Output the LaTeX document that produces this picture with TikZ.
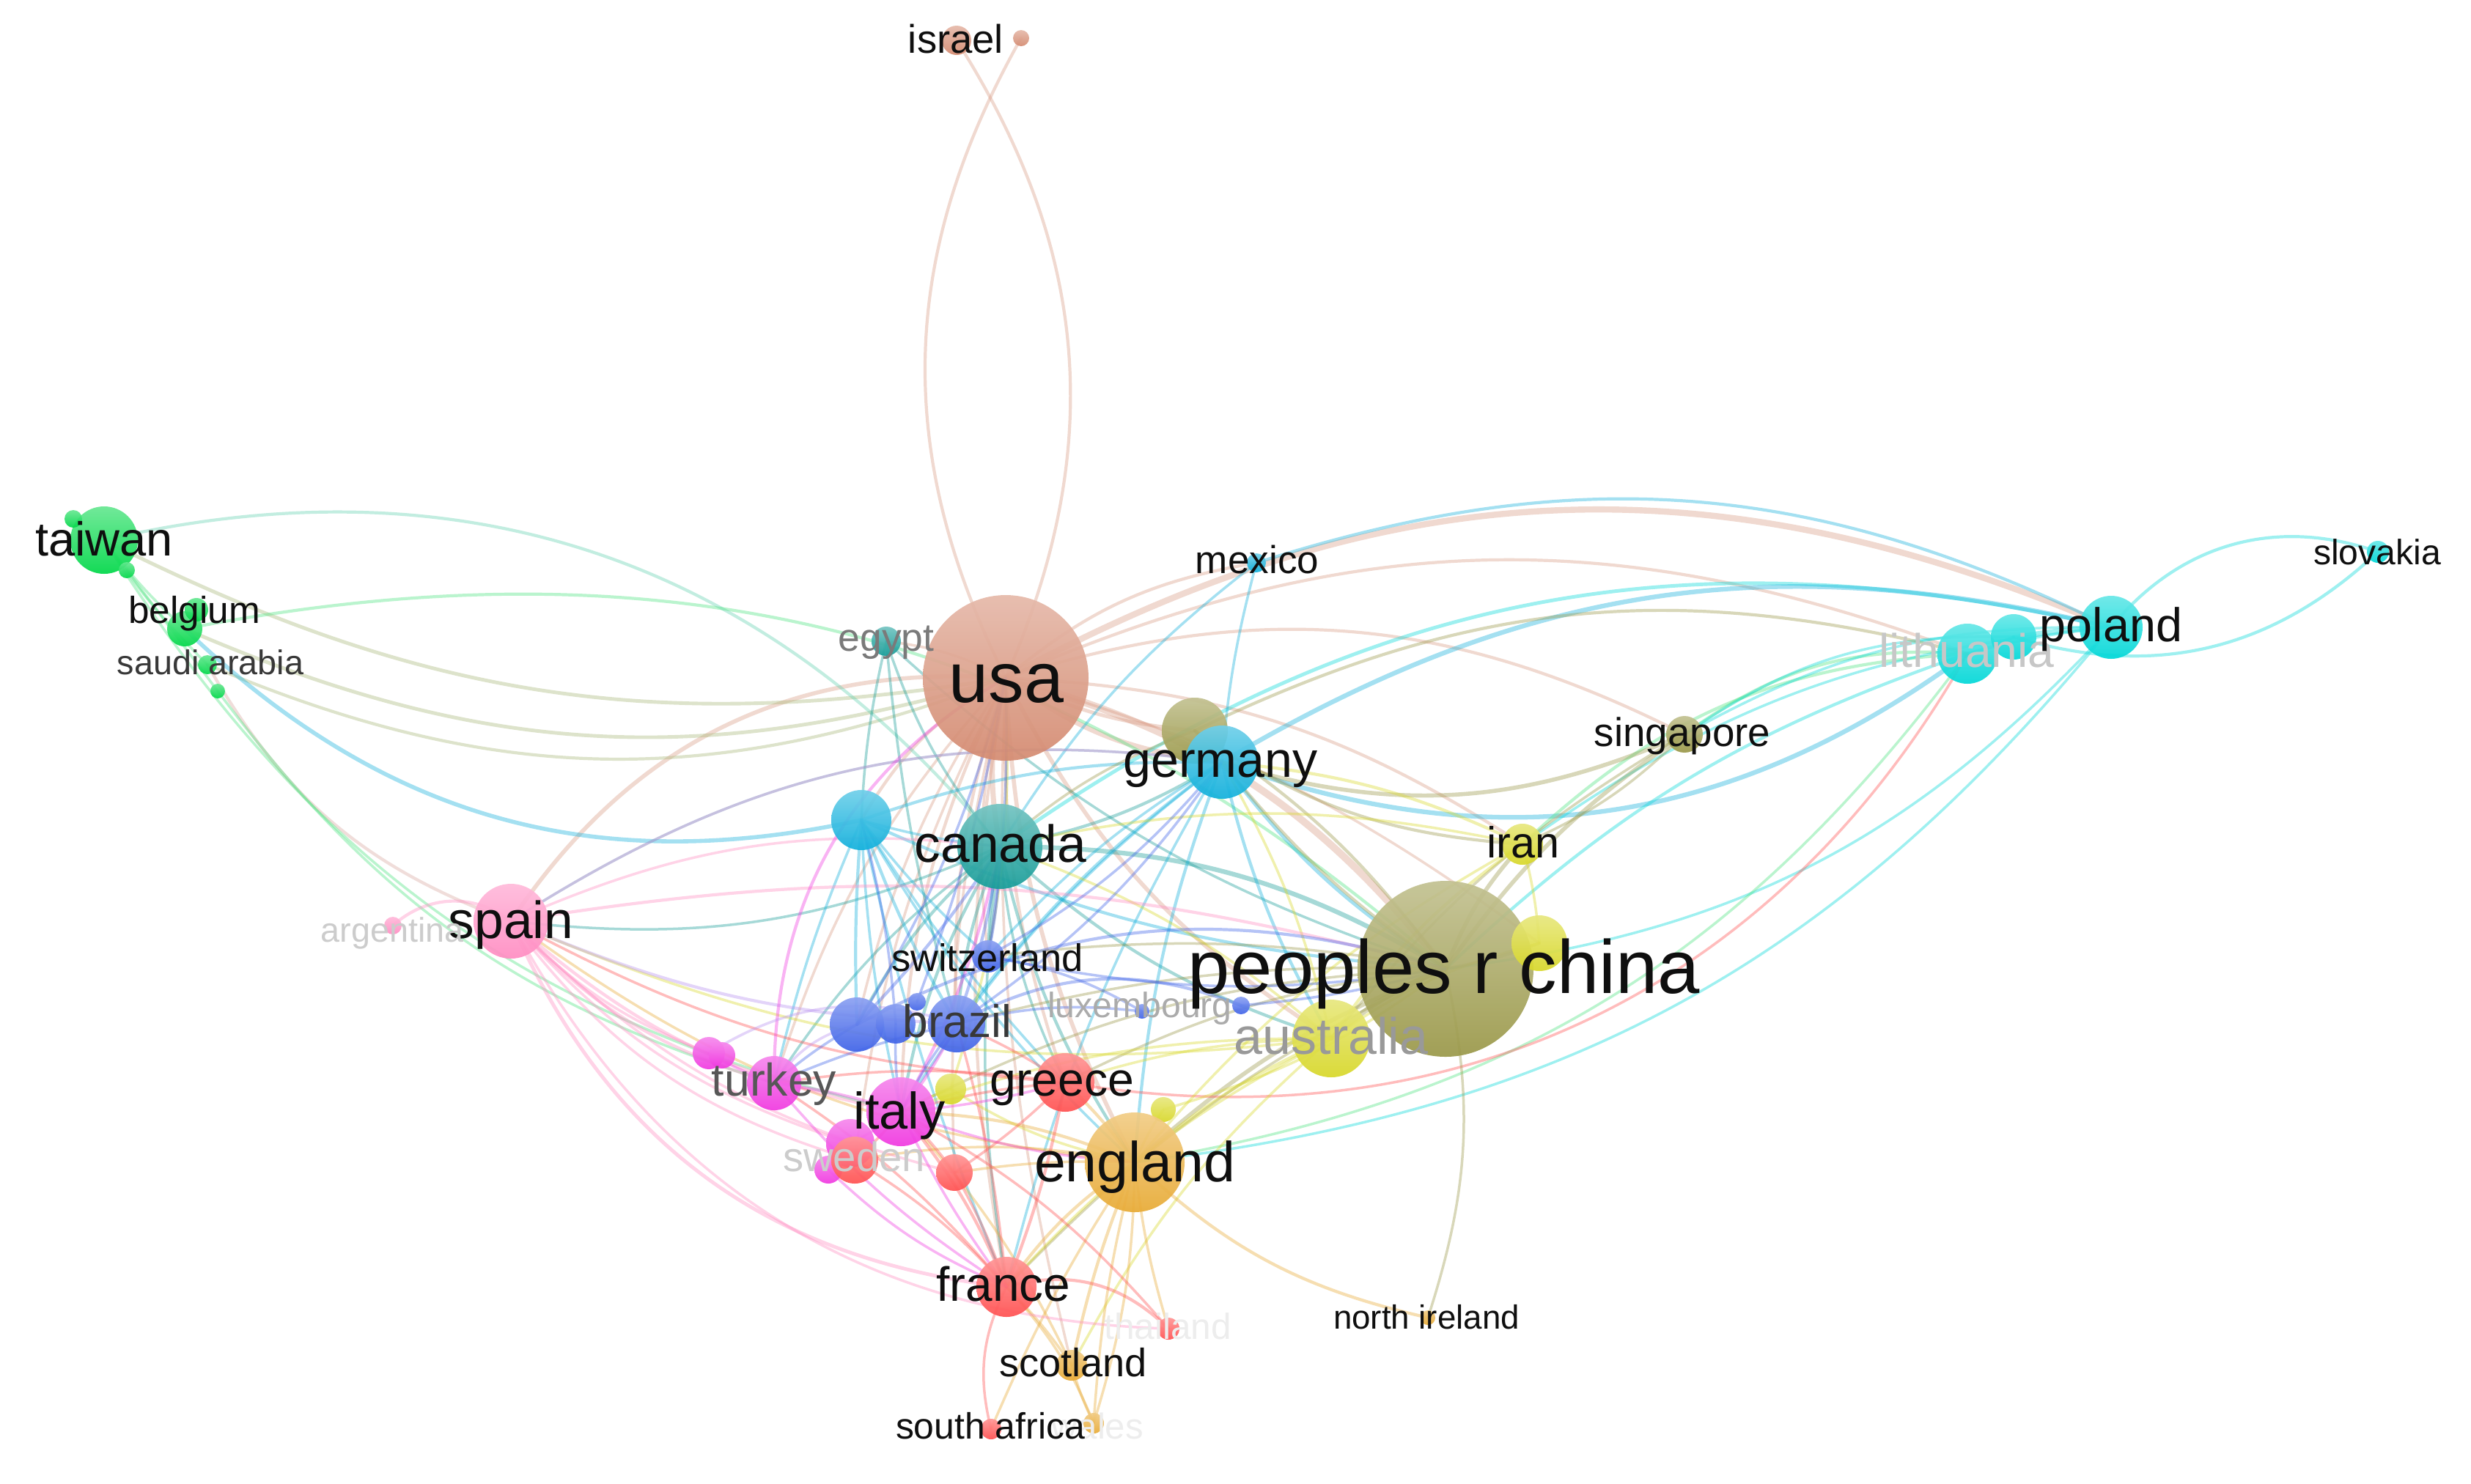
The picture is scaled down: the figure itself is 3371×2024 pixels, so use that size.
\documentclass[tikz,border=0pt]{standalone}
\usepackage{fontspec}
\setmainfont{Liberation Sans}
\pgfdeclarelayer{bg}
\pgfdeclarelayer{edges}
\pgfdeclarelayer{lbl}
\pgfsetlayers{bg,edges,main,lbl}
\definecolor{cUsa}{HTML}{D48A70}
\definecolor{cOlive}{HTML}{9A9848}
\definecolor{cCyB}{HTML}{10B0DC}
\definecolor{cTeal}{HTML}{169C98}
\definecolor{cCyan}{HTML}{00D8D8}
\definecolor{cGreen}{HTML}{00D848}
\definecolor{cPink}{HTML}{FF8CC2}
\definecolor{cMag}{HTML}{F038E0}
\definecolor{cBlue}{HTML}{3E62E8}
\definecolor{cRed}{HTML}{FF5050}
\definecolor{cGold}{HTML}{E8AA34}
\definecolor{cYel}{HTML}{D8D828}
\definecolor{eOG}{HTML}{A8B878}
\definecolor{eTG}{HTML}{60D0B0}
\definecolor{ePurp}{HTML}{B890F0}
\definecolor{eBrP}{HTML}{D8A8A0}
\tikzset{
  nd/.style 2 args={circle, inner sep=0pt, draw=none, minimum size=#2*0.2mm,
     top color=#1!60!white, bottom color=#1, fill opacity=0.92},
  lbl/.style={anchor=base, inner sep=0pt, text=black!94, font=\fontsize{#1}{#1}\selectfont},
  ed/.style={draw opacity=0.38, line cap=round},
  eu/.style={draw=cUsa!85!white},
  eg/.style={draw=cGreen!70!white},
  eg2/.style={draw=eOG},
  egt/.style={draw=eTG},
  et/.style={draw=cTeal},
  ec/.style={draw=cCyan},
  ecb/.style={draw=cCyB},
  eo/.style={draw=cOlive},
  ey/.style={draw=cYel},
  egd/.style={draw=cGold},
  er/.style={draw=cRed},
  ep/.style={draw=cPink},
  epb/.style={draw=ePurp},
  eps/.style={draw=eBrP},
  em/.style={draw=cMag},
  eb/.style={draw=cBlue}
}
\newcommand\edg[5]{\draw[ed,#1,line width=1.4*#2] (#3.center) to[bend right=#5] (#4.center);}
\begin{document}
\begin{tikzpicture}[x=0.1mm,y=-0.1mm]
\begin{pgfonlayer}{bg}
\fill[white] (0,0) rectangle (3371,2024);
\end{pgfonlayer}
\useasboundingbox (0,0) rectangle (3371,2024);
% ---------------- nodes ----------------
\node[nd={cUsa}{113}] (usa) at (1372,925) {};
\node[nd={cUsa}{20}] (israel) at (1305,55) {};
\node[nd={cUsa}{11}] (isr2) at (1393,52) {};
\node[nd={cYel}{53}] (australia) at (1816,1417) {};
\node[nd={cOlive}{120}] (china) at (1972,1322) {};
\node[nd={cYel}{38}] (yel1) at (2100,1287) {};
\node[nd={cOlive}{45}] (olv) at (1630,997) {};
\node[nd={cOlive}{25}] (singapore) at (2298,1002) {};
\node[nd={cCyB}{50}] (germany) at (1667,1040) {};
\node[nd={cCyB}{13}] (mexico) at (1714,768) {};
\node[nd={cCyB}{41}] (cyn) at (1175,1119) {};
\node[nd={cTeal}{58}] (canada) at (1364,1155) {};
\node[nd={cTeal}{20}] (egypt) at (1209,875) {};
\node[nd={cCyan}{43}] (poland) at (2880,856) {};
\node[nd={cCyan}{41}] (lith) at (2684,892) {};
\node[nd={cCyan}{31}] (lith2) at (2747,869) {};
\node[nd={cCyan}{15}] (slovakia) at (3244,753) {};
\node[nd={cGreen}{46}] (taiwan) at (142,737) {};
\node[nd={cGreen}{12}] (tw2) at (100,708) {};
\node[nd={cGreen}{11}] (tw3) at (173,778) {};
\node[nd={cGreen}{24}] (belgium) at (252,858) {};
\node[nd={cGreen}{16}] (bel2) at (268,832) {};
\node[nd={cGreen}{13}] (saudi) at (283,907) {};
\node[nd={cGreen}{10}] (sa2) at (297,943) {};
\node[nd={cPink}{51}] (spain) at (697,1257) {};
\node[nd={cPink}{12}] (argentina) at (536,1263) {};
\node[nd={cMag}{37}] (turkey) at (1056,1478) {};
\node[nd={cMag}{22}] (tk2) at (967,1437) {};
\node[nd={cMag}{18}] (tk3) at (985,1440) {};
\node[nd={cMag}{47}] (italy) at (1229,1517) {};
\node[nd={cMag}{33}] (sw1) at (1160,1560) {};
\node[nd={cMag}{19}] (sw3) at (1130,1596) {};
\node[nd={cRed}{32}] (sweden) at (1166,1583) {};
\node[nd={cRed}{25}] (red2) at (1302,1600) {};
\node[nd={cRed}{40}] (greece) at (1453,1477) {};
\node[nd={cRed}{41}] (france) at (1373,1756) {};
\node[nd={cRed}{15}] (thailand) at (1594,1813) {};
\node[nd={cRed}{14}] (safrica) at (1352,1950) {};
\node[nd={cBlue}{37}] (brA) at (1169,1398) {};
\node[nd={cBlue}{27}] (brB) at (1222,1397) {};
\node[nd={cBlue}{12}] (brC) at (1251,1367) {};
\node[nd={cBlue}{39}] (brazil) at (1305,1397) {};
\node[nd={cBlue}{22}] (switz) at (1348,1305) {};
\node[nd={cBlue}{10}] (lux1) at (1558,1380) {};
\node[nd={cBlue}{12}] (lux2) at (1693,1372) {};
\node[nd={cYel}{28}] (iran) at (2077,1152) {};
\node[nd={cYel}{21}] (yel2) at (1297,1486) {};
\node[nd={cYel}{17}] (yel3) at (1587,1514) {};
\node[nd={cGold}{68}] (england) at (1548,1586) {};
\node[nd={cGold}{21}] (scotland) at (1462,1863) {};
\node[nd={cGold}{14}] (wales) at (1492,1942) {};
\node[nd={cGold}{10}] (nireland) at (1948,1798) {};
% ---------------- edges ----------------
\begin{pgfonlayer}{edges}
% usa
\edg{eu}{0.3mm}{usa}{israel}{28}
\edg{eu}{0.3mm}{isr2}{usa}{28}
\edg{eu}{0.7mm}{china}{usa}{18}
\edg{eu}{0.6mm}{poland}{usa}{26}
\edg{eu}{0.5mm}{usa}{germany}{15}
\edg{eu}{0.5mm}{usa}{canada}{12}
\edg{eu}{0.4mm}{usa}{england}{12}
\edg{eu}{0.3mm}{usa}{france}{10}
\edg{eu}{0.3mm}{usa}{italy}{12}
\edg{eu}{0.3mm}{usa}{brazil}{10}
\edg{eu}{0.4mm}{usa}{australia}{15}
\edg{eu}{0.3mm}{usa}{greece}{10}
\edg{eu}{0.25mm}{usa}{switz}{10}
\edg{eu}{0.3mm}{usa}{cyn}{15}
\edg{eu}{0.25mm}{usa}{egypt}{10}
\edg{eu}{0.3mm}{usa}{mexico}{-15}
\edg{eu}{0.4mm}{usa}{spain}{30}
\edg{eu}{0.25mm}{usa}{sweden}{10}
\edg{eu}{0.3mm}{usa}{iran}{-15}
\edg{eu}{0.3mm}{singapore}{usa}{22}
\edg{eu}{0.3mm}{lith}{usa}{22}
\edg{eu}{0.25mm}{usa}{scotland}{8}
\edg{eu}{0.25mm}{usa}{turkey}{12}
\edg{eu}{0.35mm}{usa}{olv}{10}
\edg{eu}{0.25mm}{usa}{red2}{8}
\edg{eu}{0.25mm}{usa}{brA}{10}
\edg{eu}{0.25mm}{usa}{yel1}{-10}
% green
\edg{eg2}{0.35mm}{taiwan}{usa}{18}
\edg{eg2}{0.35mm}{belgium}{usa}{20}
\edg{eg2}{0.3mm}{saudi}{usa}{22}
\edg{egt}{0.3mm}{canada}{taiwan}{32}
\edg{ecb}{0.4mm}{belgium}{cyn}{28}
\edg{eg}{0.3mm}{china}{belgium}{26}
\edg{eps}{0.3mm}{saudi}{spain}{20}
\edg{eg}{0.25mm}{taiwan}{italy}{22}
\edg{eg}{0.25mm}{sa2}{turkey}{18}
\edg{eg}{0.25mm}{taiwan}{belgium}{5}
\edg{eg}{0.25mm}{taiwan}{saudi}{5}
\edg{eg}{0.25mm}{tw3}{sa2}{0}
% teal / cyan-blue
\edg{et}{0.45mm}{china}{canada}{15}
\edg{et}{0.3mm}{canada}{germany}{10}
\edg{et}{0.3mm}{canada}{brazil}{8}
\edg{et}{0.3mm}{canada}{brA}{10}
\edg{et}{0.25mm}{canada}{switz}{5}
\edg{et}{0.3mm}{canada}{italy}{10}
\edg{et}{0.25mm}{canada}{spain}{-15}
\edg{et}{0.3mm}{canada}{england}{10}
\edg{et}{0.25mm}{canada}{france}{8}
\edg{et}{0.25mm}{canada}{greece}{10}
\edg{et}{0.3mm}{canada}{australia}{12}
\edg{et}{0.25mm}{canada}{turkey}{10}
\edg{et}{0.25mm}{egypt}{canada}{10}
\edg{et}{0.25mm}{egypt}{cyn}{5}
\edg{et}{0.25mm}{egypt}{china}{12}
\edg{et}{0.25mm}{egypt}{brazil}{5}
\edg{ec}{0.35mm}{poland}{canada}{24}
\edg{ecb}{0.45mm}{poland}{germany}{22}
\edg{ecb}{0.45mm}{germany}{lith}{28}
\edg{ecb}{0.25mm}{mexico}{germany}{5}
\edg{ecb}{0.25mm}{mexico}{canada}{10}
\edg{ecb}{0.3mm}{poland}{mexico}{22}
\edg{ecb}{0.3mm}{germany}{brazil}{8}
\edg{ecb}{0.25mm}{germany}{switz}{8}
\edg{ecb}{0.25mm}{germany}{italy}{10}
\edg{ecb}{0.3mm}{germany}{england}{8}
\edg{ecb}{0.35mm}{germany}{china}{10}
\edg{ecb}{0.3mm}{germany}{australia}{8}
\edg{ecb}{0.25mm}{germany}{france}{8}
\edg{ecb}{0.25mm}{germany}{spain}{20}
\edg{ecb}{0.3mm}{cyn}{brazil}{5}
\edg{ecb}{0.3mm}{cyn}{brA}{3}
\edg{ecb}{0.25mm}{cyn}{switz}{5}
\edg{ecb}{0.25mm}{cyn}{italy}{5}
\edg{ecb}{0.3mm}{cyn}{germany}{-10}
\edg{ecb}{0.25mm}{cyn}{canada}{5}
\edg{ecb}{0.3mm}{cyn}{china}{10}
\edg{ecb}{0.25mm}{cyn}{turkey}{5}
\edg{ecb}{0.25mm}{cyn}{greece}{5}
\edg{ecb}{0.25mm}{cyn}{france}{5}
\edg{ecb}{0.25mm}{cyn}{england}{8}
% poland / lithuania
\edg{ec}{0.3mm}{poland}{lith}{5}
\edg{ec}{0.3mm}{poland}{lith2}{5}
\edg{ec}{0.3mm}{lith}{lith2}{5}
\edg{ec}{0.3mm}{slovakia}{poland}{35}
\edg{ec}{0.3mm}{lith2}{slovakia}{30}
\edg{ec}{0.25mm}{england}{poland}{22}
\edg{ec}{0.25mm}{china}{poland}{20}
\edg{eg}{0.25mm}{england}{lith}{22}
\edg{eg}{0.3mm}{lith}{singapore}{20}
\edg{eg}{0.3mm}{lith}{iran}{20}
\edg{ec}{0.3mm}{lith}{china}{12}
\edg{ec}{0.25mm}{poland}{iran}{15}
\edg{ec}{0.25mm}{lith2}{singapore}{18}
\edg{ec}{0.25mm}{poland}{singapore}{15}
% china / olive
\edg{eo}{0.4mm}{china}{singapore}{-10}
\edg{eo}{0.4mm}{china}{iran}{-10}
\edg{eo}{0.5mm}{china}{australia}{10}
\edg{eo}{0.4mm}{china}{england}{10}
\edg{eo}{0.3mm}{china}{olv}{10}
\edg{eo}{0.3mm}{china}{germany}{-8}
\edg{eo}{0.25mm}{china}{italy}{12}
\edg{eo}{0.25mm}{china}{greece}{10}
\edg{er}{0.25mm}{greece}{lith}{35}
\edg{eo}{0.25mm}{china}{brazil}{8}
\edg{eo}{0.25mm}{china}{switz}{8}
\edg{eo}{0.25mm}{nireland}{china}{15}
\edg{eo}{0.3mm}{china}{yel1}{5}
\edg{eo}{0.25mm}{china}{france}{10}
\edg{eo}{0.4mm}{germany}{singapore}{20}
\edg{eo}{0.25mm}{singapore}{australia}{10}
\edg{eo}{0.25mm}{singapore}{iran}{-10}
\edg{eo}{0.3mm}{olv}{germany}{5}
\edg{eo}{0.3mm}{olv}{iran}{15}
\edg{eo}{0.25mm}{olv}{canada}{10}
\edg{eo}{0.3mm}{lith}{olv}{20}
% yellow
\edg{ey}{0.3mm}{iran}{germany}{10}
\edg{ey}{0.25mm}{iran}{canada}{12}
\edg{ey}{0.3mm}{iran}{australia}{10}
\edg{ey}{0.25mm}{iran}{england}{10}
\edg{ey}{0.3mm}{australia}{england}{8}
\edg{ey}{0.25mm}{australia}{canada}{10}
\edg{ey}{0.25mm}{australia}{italy}{10}
\edg{ey}{0.25mm}{australia}{greece}{8}
\edg{ey}{0.25mm}{australia}{spain}{-15}
\edg{ey}{0.25mm}{australia}{france}{10}
\edg{ey}{0.25mm}{australia}{scotland}{10}
\edg{ey}{0.25mm}{australia}{germany}{8}
\edg{ey}{0.25mm}{yel1}{australia}{10}
\edg{ey}{0.25mm}{yel1}{iran}{5}
\edg{ey}{0.25mm}{yel2}{usa}{10}
\edg{ey}{0.25mm}{yel2}{italy}{5}
\edg{ey}{0.25mm}{yel3}{england}{5}
\edg{ey}{0.25mm}{yel3}{china}{10}
\edg{ey}{0.25mm}{yel2}{england}{10}
% gold
\edg{egd}{0.3mm}{england}{france}{10}
\edg{egd}{0.3mm}{england}{scotland}{5}
\edg{egd}{0.25mm}{england}{wales}{5}
\edg{egd}{0.3mm}{england}{nireland}{15}
\edg{egd}{0.25mm}{england}{thailand}{5}
\edg{egd}{0.3mm}{england}{italy}{10}
\edg{egd}{0.3mm}{england}{greece}{5}
\edg{egd}{0.25mm}{spain}{england}{15}
\edg{egd}{0.25mm}{england}{sweden}{10}
\edg{egd}{0.25mm}{england}{red2}{5}
\edg{egd}{0.25mm}{england}{safrica}{5}
\edg{egd}{0.25mm}{scotland}{france}{5}
\edg{egd}{0.25mm}{scotland}{wales}{5}
\edg{egd}{0.25mm}{wales}{france}{10}
\edg{egd}{0.25mm}{scotland}{italy}{8}
\edg{egd}{0.25mm}{wales}{england}{8}
% red
\edg{er}{0.3mm}{france}{italy}{8}
\edg{er}{0.3mm}{france}{greece}{5}
\edg{er}{0.25mm}{france}{sweden}{8}
\edg{er}{0.25mm}{france}{red2}{5}
\edg{er}{0.25mm}{france}{safrica}{20}
\edg{er}{0.3mm}{thailand}{france}{30}
\edg{er}{0.25mm}{france}{brazil}{5}
\edg{er}{0.25mm}{france}{turkey}{8}
\edg{er}{0.25mm}{greece}{italy}{5}
\edg{er}{0.25mm}{spain}{greece}{12}
\edg{er}{0.25mm}{greece}{brazil}{5}
\edg{er}{0.25mm}{greece}{turkey}{8}
\edg{er}{0.25mm}{sweden}{italy}{5}
\edg{er}{0.25mm}{red2}{italy}{5}
\edg{er}{0.25mm}{thailand}{italy}{10}
\edg{er}{0.25mm}{red2}{greece}{5}
% pink
\edg{ep}{0.35mm}{spain}{france}{30}
\edg{ep}{0.3mm}{spain}{argentina}{40}
\edg{ep}{0.3mm}{spain}{italy}{15}
\edg{ep}{0.3mm}{spain}{turkey}{15}
\edg{ep}{0.25mm}{spain}{tk2}{12}
\edg{epb}{0.3mm}{spain}{brazil}{10}
\edg{ep}{0.3mm}{china}{spain}{12}
\edg{ep}{0.25mm}{spain}{canada}{-15}
\edg{ep}{0.25mm}{spain}{germany}{-20}
\edg{ep}{0.25mm}{spain}{sweden}{18}
\edg{ep}{0.25mm}{spain}{red2}{15}
\edg{ep}{0.25mm}{spain}{sw1}{15}
\edg{ep}{0.25mm}{spain}{thailand}{30}
% magenta
\edg{em}{0.3mm}{turkey}{usa}{-30}
\edg{em}{0.3mm}{italy}{turkey}{5}
\edg{em}{0.3mm}{italy}{brazil}{5}
\edg{em}{0.3mm}{italy}{canada}{8}
\edg{em}{0.25mm}{italy}{greece}{5}
\edg{em}{0.25mm}{italy}{england}{8}
\edg{epb}{0.25mm}{tk2}{brazil}{-25}
\edg{epb}{0.25mm}{turkey}{brA}{-20}
\edg{em}{0.25mm}{sw1}{italy}{5}
\edg{em}{0.25mm}{sw3}{france}{10}
\edg{em}{0.25mm}{italy}{france}{5}
\edg{em}{0.25mm}{tk2}{turkey}{5}
\edg{em}{0.25mm}{turkey}{france}{8}
% blue
\edg{eb}{0.3mm}{brazil}{canada}{5}
\edg{eb}{0.3mm}{brA}{canada}{5}
\edg{eb}{0.25mm}{brB}{cyn}{5}
\edg{eb}{0.25mm}{switz}{canada}{5}
\edg{eb}{0.25mm}{switz}{usa}{5}
\edg{eb}{0.3mm}{lux2}{brazil}{25}
\edg{eb}{0.3mm}{china}{brA}{22}
\edg{eb}{0.25mm}{brazil}{germany}{10}
\edg{eb}{0.25mm}{brazil}{italy}{5}
\edg{eb}{0.25mm}{brazil}{turkey}{5}
\edg{eb}{0.25mm}{brC}{usa}{5}
\edg{eb}{0.25mm}{lux1}{switz}{10}
\edg{eb}{0.25mm}{lux1}{brazil}{10}
\edg{eb}{0.25mm}{switz}{germany}{10}
\edg{eb}{0.25mm}{brB}{italy}{5}
\edg{eb}{0.25mm}{brA}{turkey}{5}
\edg{eb}{0.25mm}{switz}{china}{10}
\edg{eb}{0.25mm}{lux2}{china}{5}
\edg{eb}{0.25mm}{brA}{usa}{8}
\end{pgfonlayer}
% ---------------- labels ----------------
\begin{pgfonlayer}{lbl}
\node[lbl=15.5] (israelL) at (1304,72) {israel};
\node[lbl=18.5] (taiwanL) at (142,758) {taiwan};
\node[lbl=14.6] (belgiumL) at (265,850) {belgium};
\node[lbl=13.3,text=black!78] (saudiL) at (287,920) {saudi arabia};
\node[lbl=15.1] (mexicoL) at (1715,782) {mexico};
\node[lbl=15.2,text=black!52] (egyptL) at (1209,888) {egypt};
\node[lbl=27.6] (usaL) at (1373,958) {usa};
\node[lbl=19.4] (germanyL) at (1665,1060) {germany};
\node[lbl=20.3] (canadaL) at (1365,1176) {canada};
\node[lbl=14.9] (switzL) at (1347,1325) {switzerland};
\node[lbl=17.7,text=black!78] (brazilL) at (1306,1415) {brazil};
\node[lbl=13.7,text=black!33] (luxL) at (1555,1388) {luxembourg};
\node[lbl=19.9,text=black!40] (australiaL) at (1816,1438) {australia};
\node[lbl=29.3] (chinaL) at (1970,1355) {peoples r china};
\node[lbl=16.9] (iranL) at (2078,1170) {iran};
\node[lbl=15.6] (singaporeL) at (2295,1018) {singapore};
\node[lbl=18.3,text=black!22] (lithL) at (2683,910) {lithuania};
\node[lbl=18.4] (polandL) at (2880,875) {poland};
\node[lbl=13.7] (slovakiaL) at (3243,770) {slovakia};
\node[lbl=20.3] (spainL) at (697,1280) {spain};
\node[lbl=13.3,text=black!20] (argentinaL) at (535,1285) {argentina};
\node[lbl=17.8,text=black!66] (turkeyL) at (1056,1495) {turkey};
\node[lbl=20.0] (italyL) at (1227,1540) {italy};
\node[lbl=18.3] (greeceL) at (1449,1495) {greece};
\node[lbl=21.9] (englandL) at (1548,1612) {england};
\node[lbl=16.0,text=black!20] (swedenL) at (1165,1598) {sweden};
\node[lbl=18.7] (franceL) at (1369,1775) {france};
\node[lbl=14.1,text=black!7] (thailandL) at (1593,1827) {thailand};
\node[lbl=15.4] (scotlandL) at (1464,1878) {scotland};
\node[lbl=14.0,text=black!7] (walesL) at (1497,1963) {wales};
\node[lbl=14.2] (safricaL) at (1351,1963) {south africa};
\node[lbl=13.0] (nirelandL) at (1946,1813) {north ireland};
\end{pgfonlayer}
\end{tikzpicture}
\end{document}
